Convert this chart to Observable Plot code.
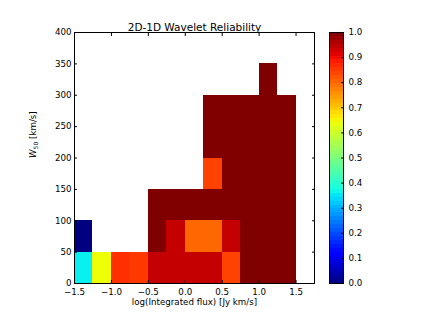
<!DOCTYPE html>
<html><head><meta charset="utf-8">
<script src="https://cdn.jsdelivr.net/npm/d3@7"></script>
<script src="https://cdn.jsdelivr.net/npm/@observablehq/plot@0.6"></script>
<style>
body{margin:0;background:#fff;font-family:"DejaVu Sans",sans-serif;}
#wrap{position:relative;width:421px;height:316px;overflow:hidden;background:#fff;}
#main,#cbar{position:absolute;top:0;}
#main{left:0;} #cbar{left:320px;}
</style></head><body>
<div id="wrap"><div id="main"></div><div id="cbar"></div></div>
<script>
const title = "2D-1D Wavelet Reliability";
const xLabel = "log(Integrated flux) [Jy km/s]";
const yLabel = "W50 [km/s]";
const xBinStart = [-1.5, -1.25, -1.0, -0.75, -0.5, -0.25, 0, 0.25, 0.5, 0.75, 1.0, 1.25];
const binWidth = 0.25;
const yBinStart = [0, 50, 100, 150, 200, 250, 300];
const binHeight = 50;
// reliability per W50 row (bottom to top), per flux bin (left to right); null = empty
const row0 = [0.36, 0.64, 0.86, 0.85, 0.94, 0.94, 0.94, 0.94, 0.84, 1, 1, 1];
const row1 = [0.0, null, null, null, 1, 0.94, 0.8, 0.8, 0.94, 1, 1, 1];
const row2 = [null, null, null, null, 1, 1, 1, 1, 1, 1, 1, 1];
const row3 = [null, null, null, null, null, null, null, 0.84, 1, 1, 1, 1];
const row4 = [null, null, null, null, null, null, null, 1, 1, 1, 1, 1];
const row5 = [null, null, null, null, null, null, null, 1, 1, 1, 1, 1];
const row6 = [null, null, null, null, null, null, null, null, null, null, 1, null];
const rows = [row0, row1, row2, row3, row4, row5, row6];
const xTicks = [-1.5, -1.0, -0.5, 0, 0.5, 1.0, 1.5];
const yTicks = [0, 50, 100, 150, 200, 250, 300, 350, 400];
const cbarTicks = [0, 0.1, 0.2, 0.3, 0.4, 0.5, 0.6, 0.7, 0.8, 0.9, 1.0];

// matplotlib "jet" colormap
const R = [[0,0],[0.35,0],[0.66,1],[0.89,1],[1,0.5]];
const G = [[0,0],[0.125,0],[0.375,1],[0.64,1],[0.91,0],[1,0]];
const B = [[0,0.5],[0.11,1],[0.34,1],[0.65,0],[1,0]];
function seg(pts, t) {
  for (let i = 1; i < pts.length; i++) {
    if (t <= pts[i][0]) {
      const [x0, y0] = pts[i-1], [x1, y1] = pts[i];
      return y0 + (y1 - y0) * (t - x0) / (x1 - x0);
    }
  }
  return pts[pts.length-1][1];
}
function jet(t) {
  t = Math.max(0, Math.min(1, t));
  return d3.rgb(seg(R,t)*255, seg(G,t)*255, seg(B,t)*255).formatHex();
}

const cells = [];
rows.forEach((row, j) => row.forEach((v, i) => {
  if (v != null) cells.push({x1: xBinStart[i], x2: xBinStart[i] + binWidth, y1: yBinStart[j], y2: yBinStart[j] + binHeight, v});
}));

const colorOpt = {type: "linear", domain: [0, 1], interpolate: jet};
const fs = 8.7;
const fmt1 = d3.format(".1f");

const main = Plot.plot({
  width: 330, height: 316,
  marginLeft: 74, marginRight: 16, marginTop: 32, marginBottom: 33,
  style: {fontFamily: "DejaVu Sans", fontSize: fs + "px", background: "#fff"},
  x: {domain: [-1.5, 1.75]},
  y: {domain: [0, 400]},
  color: colorOpt,
  marks: [
    Plot.rect(cells, {x1: "x1", x2: "x2", y1: "y1", y2: "y2", fill: "v", shapeRendering: "crispEdges"}),
    Plot.frame({stroke: "#000", strokeWidth: 1}),
    Plot.axisX({ticks: xTicks, tickSize: -3, tickPadding: 8, tickFormat: fmt1, label: null, fontSize: fs, fill: "#000"}),
    Plot.axisX({anchor: "top", ticks: xTicks, tickSize: -3, tickFormat: () => "", label: null}),
    Plot.axisY({ticks: yTicks, tickSize: -3, tickPadding: 6, tickFormat: d3.format("d"), label: null, fontSize: fs, fill: "#000"}),
    Plot.axisY({anchor: "right", ticks: yTicks, tickSize: -3, tickFormat: () => "", label: null}),
    Plot.text([title], {frameAnchor: "top", dy: -9, fontSize: 10.5, fill: "#000"}),
    Plot.text([xLabel], {frameAnchor: "bottom", dy: 21, fontSize: fs, fill: "#000"}),
    Plot.text([yLabel], {frameAnchor: "left", dx: -41, rotate: -90, fontSize: fs, fill: "#000", className: "ylab"})
  ]
});
// style the y label as italic W with subscript 50
main.querySelectorAll(".ylab text").forEach(t => {
  if (t.textContent === yLabel) {
    t.innerHTML = '<tspan font-style="italic">W</tspan><tspan font-size="6" dy="2">50</tspan><tspan dy="-2"> [km/s]</tspan>';
  }
});
document.getElementById("main").append(main);

const step = 1 / 64;
const bands = d3.range(0, 1, step);
const cbar = Plot.plot({
  width: 90, height: 316,
  marginLeft: 9, marginRight: 67, marginTop: 32, marginBottom: 33,
  style: {fontFamily: "DejaVu Sans", fontSize: fs + "px", background: "transparent"},
  y: {domain: [0, 1]},
  color: colorOpt,
  marks: [
    Plot.rect(bands, {y1: d => d, y2: d => d + step, fill: d => d + step / 2, shapeRendering: "crispEdges"}),
    Plot.frame({stroke: "#000", strokeWidth: 1}),
    Plot.axisY({anchor: "right", ticks: cbarTicks, tickSize: -3, tickPadding: 8, tickFormat: fmt1, label: null, fontSize: fs, fill: "#000"})
  ]
});
document.getElementById("cbar").append(cbar);
</script>
</body></html>
